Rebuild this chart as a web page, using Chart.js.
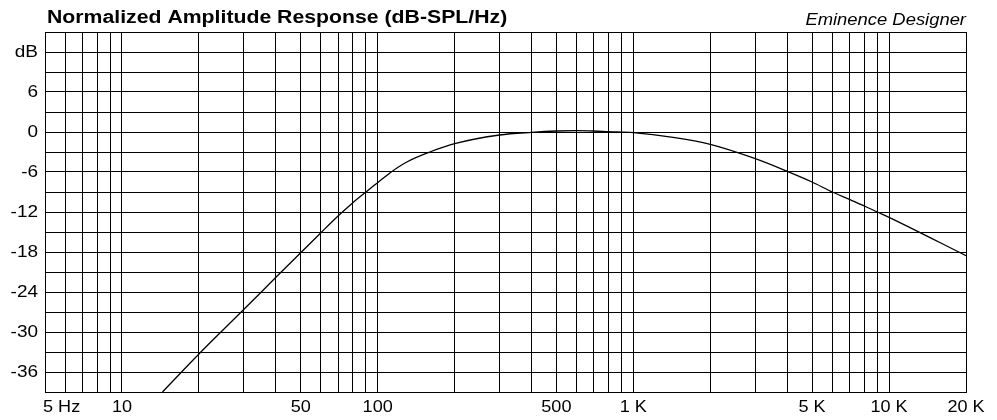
<!DOCTYPE html>
<html lang="en">
<head>
<meta charset="utf-8">
<title>Normalized Amplitude Response</title>
<script src="https://cdn.jsdelivr.net/npm/chart.js@4.4.1/dist/chart.umd.min.js"></script>
<style>
  html, body { margin: 0; padding: 0; background: #fff; }
  #wrap { width: 997px; height: 420px; }
</style>
</head>
<body>
<div id="wrap"><canvas id="chartResposta" width="997" height="420"></canvas></div>
<script>
// Curve (Hz, dB)
const frequencias = [14.4, 20, 30, 40, 50, 60, 70, 80, 90, 100, 112, 130, 160, 200, 300, 400, 500, 600, 700, 800, 1000,
    1430, 2000, 3000, 4000, 5000, 6000, 7000, 8000, 9000, 10000, 20000];
const respostaDb = [-39, -33.3, -26.6, -21.8, -18.1, -15.1, -12.6, -10.6, -9.0, -7.6, -6.1, -4.5, -3.0, -1.75, -0.45, -0.05, 0.15, 0.2, 0.15, 0.05, -0.1,
    -0.8, -1.85, -4.0, -5.9, -7.5, -9.0, -10.1, -11.1, -12.0, -12.8, -18.55];

// Grid and labels
const gradeFreq = [5, 6, 7, 8, 9, 10, 20, 30, 40, 50, 60, 70, 80, 90, 100, 200, 300, 400, 500, 600, 700, 800, 900,
    1000, 2000, 3000, 4000, 5000, 6000, 7000, 8000, 9000, 10000, 20000];
const rotulosFreq = [5, 10, 50, 100, 500, 1000, 5000, 10000, 20000];
const textosFreq = ['5 Hz', '10', '50', '100', '500', '1 K', '5 K', '10 K', '20 K'];
const rotulosDb = [12, 6, 0, -6, -12, -18, -24, -30, -36];
const textosDb = ['dB', '6', '0', '-6', '-12', '-18', '-24', '-30', '-36'];
const freqMin = 5, freqMax = 20000;
const dbMin = -39, dbMax = 15, dbPasso = 3;

const titulo = 'Normalized Amplitude Response (dB-SPL/Hz)';
const marca = 'Eminence Designer';

const fonte = '"Liberation Sans", Arial, sans-serif';

// the original text is drawn a bit wide, so it is stretched sideways
function escrever(ctx, str, x, y, font, align, baseline, esticar) {
    ctx.save();
    ctx.font = font;
    ctx.fillStyle = '#000';
    ctx.textAlign = align;
    ctx.textBaseline = baseline;
    ctx.translate(x, y);
    ctx.scale(esticar, 1);
    ctx.fillText(str, 0, 0);
    ctx.restore();
}

const pluginTextos = {
    id: 'textos',
    afterDraw(chart) {
        const { ctx, chartArea, scales } = chart;
        escrever(ctx, titulo, chartArea.left + 2, 23, `bold 18px ${fonte}`, 'left', 'alphabetic', 1.18);
        escrever(ctx, marca, chartArea.right, 25, `italic 16px ${fonte}`, 'right', 'alphabetic', 1.15);

        rotulosDb.forEach((v, i) => {
            escrever(ctx, textosDb[i], chartArea.left - 7, scales.y.getPixelForValue(v), `16.5px ${fonte}`, 'right', 'middle', 1.15);
        });
        rotulosFreq.forEach((f, i) => {
            const px = scales.x.getPixelForValue(f);
            const primeiro = i === 0;
            escrever(ctx, textosFreq[i], primeiro ? px - 2 : px, chartArea.bottom + 16, `16px ${fonte}`, primeiro ? 'left' : 'center', 'middle', 1.13);
        });
    }
};

new Chart('chartResposta', {
    type: 'line',
    data: {
        datasets: [{
            data: frequencias.map((f, i) => ({ x: f, y: respostaDb[i] })),
            borderColor: '#000',
            borderWidth: 1.3,
            pointRadius: 0,
            cubicInterpolationMode: 'monotone',
            fill: false
        }]
    },
    options: {
        responsive: false,
        animation: false,
        events: [],
        layout: { padding: { top: 32, left: 45, right: 31, bottom: 28 } },
        plugins: { legend: { display: false }, tooltip: { enabled: false }, title: { display: false } },
        scales: {
            x: {
                type: 'logarithmic',
                min: freqMin,
                max: freqMax,
                afterBuildTicks: (scale) => { scale.ticks = gradeFreq.map(v => ({ value: v })); },
                ticks: { display: false },
                grid: { color: '#000', lineWidth: 1, drawTicks: false },
                border: { color: '#000' }
            },
            y: {
                min: dbMin,
                max: dbMax,
                ticks: { display: false, stepSize: dbPasso },
                grid: { color: '#000', lineWidth: 1, drawTicks: false },
                border: { color: '#000' }
            }
        }
    },
    plugins: [pluginTextos]
});
</script>
</body>
</html>
